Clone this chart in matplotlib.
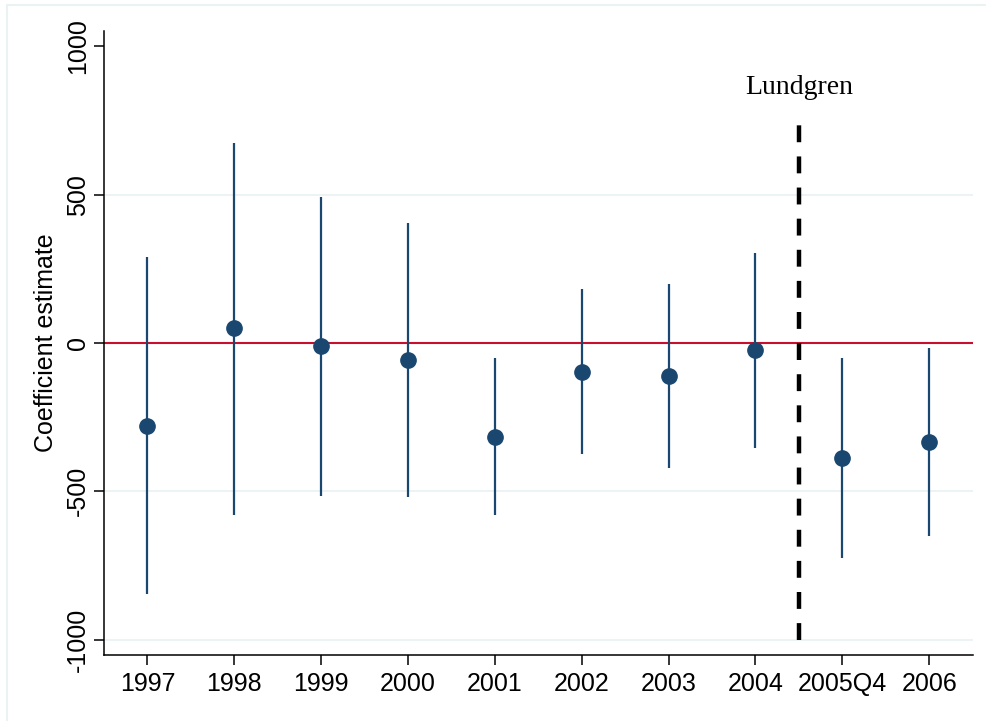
import matplotlib
matplotlib.use("Agg")
import matplotlib.pyplot as plt
from matplotlib.patches import Rectangle

periods = ["1997", "1998", "1999", "2000", "2001", "2002", "2003", "2004", "2005Q4", "2006"]
coef = [-279, 49, -10, -57, -316, -99, -111, -24, -387, -334]
ci_low = [-845, -579, -516, -518, -581, -375, -422, -355, -725, -652]
ci_high = [291, 675, 493, 403, -50, 181, 199, 304, -50, -18]
event_pos = 7.5
event_label = "Lundgren"

NAVY = "#1a476f"
GRID = "#eaf2f3"

plt.rcParams["font.family"] = ["Liberation Sans", "DejaVu Sans"]

fig = plt.figure(figsize=(9.87, 7.21), dpi=100)
fig.patches.append(Rectangle((7 / 987, -0.1), 1.2, 1 - 5 / 721 + 0.1,
                             transform=fig.transFigure, fill=False,
                             edgecolor=GRID, lw=1.5))
ax = fig.add_axes([0.1054, 0.0911, 0.88, 0.8663])

x = list(range(len(periods)))

for yv in [-1000, -500, 500]:
    ax.axhline(yv, color=GRID, lw=1.3, zorder=0)
ax.axhline(0, color="#c8102e", lw=1.5, zorder=1)

ax.vlines(x, ci_low, ci_high, color=NAVY, lw=1.6, zorder=2)
ax.plot(x, coef, "o", color=NAVY, ms=11, zorder=3)

ax.plot([event_pos, event_pos], [-1000, 740], color="black", lw=3.2,
        dashes=(3.8, 3.2), zorder=2)
ax.text(event_pos, 860, event_label, ha="center", va="center",
        fontsize=20, family=["Liberation Serif"])

ax.set_xlim(-0.5, 9.5)
ax.set_ylim(-1053, 1053)
ax.set_xticks(x)
ax.set_xticklabels(periods, fontsize=18)
ax.set_yticks([-1000, -500, 0, 500, 1000])
ax.set_yticklabels(["-1000", "-500", "0", "500", "1000"], fontsize=18,
                   rotation=90, va="center")
ax.tick_params(axis="both", direction="out", length=7, width=1.1, color="black")
ax.tick_params(axis="x", pad=5)
ax.tick_params(axis="y", pad=3)
ax.set_ylabel("Coefficient estimate", fontsize=18, labelpad=6)

for side in ["top", "right"]:
    ax.spines[side].set_visible(False)
for side in ["left", "bottom"]:
    ax.spines[side].set_linewidth(1.1)

fig.savefig("out.png", dpi=100)
